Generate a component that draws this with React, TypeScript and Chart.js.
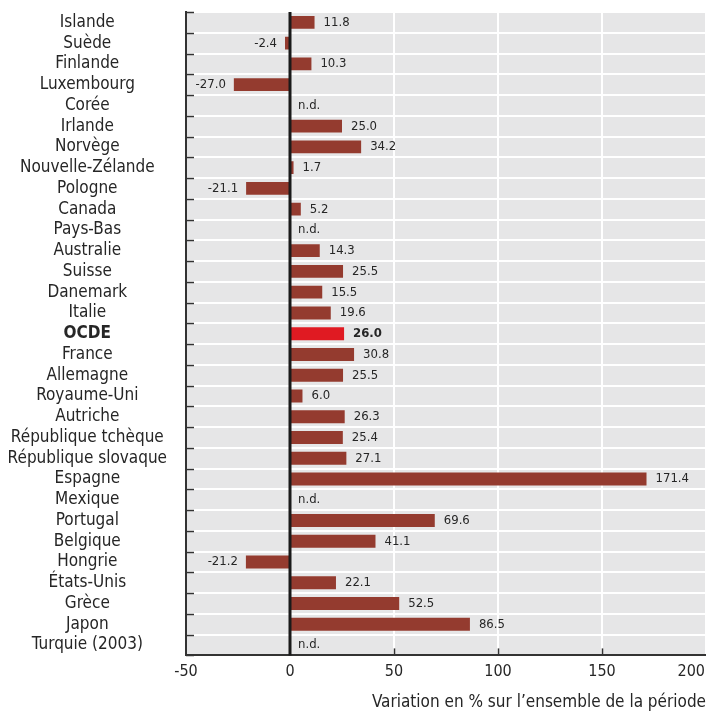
import React, { useEffect, useRef } from 'react';
import { Chart, registerables } from 'chart.js';

Chart.register(...registerables);

const countries: string[] = [
  'Islande', 'Suède', 'Finlande', 'Luxembourg', 'Corée', 'Irlande', 'Norvège',
  'Nouvelle-Zélande', 'Pologne', 'Canada', 'Pays-Bas', 'Australie', 'Suisse',
  'Danemark', 'Italie', 'OCDE', 'France', 'Allemagne', 'Royaume-Uni', 'Autriche',
  'République tchèque', 'République slovaque', 'Espagne', 'Mexique', 'Portugal',
  'Belgique', 'Hongrie', 'États-Unis', 'Grèce', 'Japon', 'Turquie (2003)',
];

const values: (number | null)[] = [
  11.8, -2.4, 10.3, -27.0, null, 25.0, 34.2,
  1.7, -21.1, 5.2, null, 14.3, 25.5,
  15.5, 19.6, 26.0, 30.8, 25.5, 6.0, 26.3,
  25.4, 27.1, 171.4, null, 69.6,
  41.1, -21.2, 22.1, 52.5, 86.5, null,
];

const highlight = 'OCDE';
const xMin = -50;
const xMax = 200;
const xStep = 50;
const axisTitle = 'Variation en % sur l’ensemble de la période';
const missingLabel = 'n.d.';

const FONT = '"Liberation Sans Narrow", "DejaVu Sans Condensed", "DejaVu Sans", sans-serif';
const BAR = '#943b2f';
const HL = '#e01a22';
const BG = '#e6e6e7';
const TEXT = '#262626';
const AXIS = '#333333';
const TICK_SIZE = 16;
const TICK_PAD = 7;

const overlay = {
  id: 'overlay',
  beforeDraw(chart: any) {
    const { ctx, chartArea } = chart;
    ctx.save();
    ctx.fillStyle = BG;
    ctx.fillRect(chartArea.left, chartArea.top, chartArea.right - chartArea.left, chartArea.bottom - chartArea.top);
    ctx.restore();
  },
  afterDatasetsDraw(chart: any) {
    const { ctx, chartArea } = chart;
    const xs = chart.scales.x;
    const ys = chart.scales.y;
    ctx.save();
    ctx.strokeStyle = AXIS;
    ctx.lineWidth = 1.5;
    for (let i = 0; i <= countries.length; i++) {
      const y = Math.round(ys.getPixelForValue(i - 0.5)) + 0.5;
      ctx.beginPath();
      ctx.moveTo(chartArea.left, y);
      ctx.lineTo(chartArea.left + 8, y);
      ctx.stroke();
    }
    for (let v = xMin + xStep; v < xMax; v += xStep) {
      if (v === 0) continue;
      const x = Math.round(xs.getPixelForValue(v)) + 0.5;
      ctx.beginPath();
      ctx.moveTo(x, chartArea.bottom);
      ctx.lineTo(x, chartArea.bottom - 7);
      ctx.stroke();
    }
    const x0 = xs.getPixelForValue(0);
    ctx.strokeStyle = '#1a1a1a';
    ctx.lineWidth = 3;
    ctx.beginPath();
    ctx.moveTo(x0, chartArea.top);
    ctx.lineTo(x0, chartArea.bottom);
    ctx.stroke();
    ctx.fillStyle = TEXT;
    ctx.textBaseline = 'middle';
    values.forEach((v, i) => {
      const y = ys.getPixelForValue(i);
      const bold = countries[i] === highlight;
      ctx.font = `${bold ? 'bold ' : ''}13px ${FONT}`;
      if (v === null) {
        ctx.textAlign = 'left';
        ctx.fillText(missingLabel, x0 + 8, y);
      } else if (v >= 0) {
        ctx.textAlign = 'left';
        ctx.fillText(v.toFixed(1), xs.getPixelForValue(v) + 9, y);
      } else {
        ctx.textAlign = 'right';
        ctx.fillText(v.toFixed(1), xs.getPixelForValue(v) - 8, y);
      }
    });
    ctx.restore();
  },
  afterDraw(chart: any) {
    const { ctx } = chart;
    const xs = chart.scales.x;
    ctx.save();
    ctx.font = `${TICK_SIZE}px ${FONT}`;
    ctx.fillStyle = TEXT;
    ctx.textAlign = 'right';
    ctx.textBaseline = 'middle';
    ctx.fillText(String(xMax), chart.width - 1, xs.top + TICK_PAD + (TICK_SIZE * 1.2) / 2);
    ctx.restore();
  },
};

export default function App() {
  const ref = useRef<HTMLCanvasElement | null>(null);
  useEffect(() => {
    if (!ref.current) return;
    const chart = new Chart(ref.current, {
      type: 'bar',
      data: {
        labels: countries,
        datasets: [
          {
            data: values as any,
            backgroundColor: countries.map((c) => (c === highlight ? HL : BAR)),
            barPercentage: 0.62,
            categoryPercentage: 1,
            borderWidth: 0,
          },
        ],
      },
      options: {
        indexAxis: 'y',
        responsive: false,
        animation: false,
        layout: { padding: { top: 12, left: 0, right: 0, bottom: 0 } },
        plugins: { legend: { display: false }, tooltip: { enabled: false } },
        scales: {
          x: {
            type: 'linear',
            min: xMin,
            max: xMax,
            ticks: {
              stepSize: xStep,
              padding: TICK_PAD,
              maxRotation: 0,
              font: { family: FONT, size: TICK_SIZE },
              color: (ctx: any) => (ctx.tick && ctx.tick.value === xMax ? 'rgba(0,0,0,0)' : TEXT),
            },
            grid: { color: '#ffffff', lineWidth: 2, drawTicks: false },
            border: { color: AXIS, width: 2 },
            title: {
              display: true,
              text: axisTitle,
              align: 'end',
              color: TEXT,
              font: { family: FONT, size: 17 },
              padding: { top: 4, bottom: 2 },
            },
            afterFit: (s: any) => {
              s.paddingLeft = 0;
              s.paddingRight = 0;
            },
          },
          y: {
            type: 'category',
            offset: true,
            ticks: {
              autoSkip: false,
              crossAlign: 'center',
              padding: 19,
              color: TEXT,
              font: (ctx: any) => ({
                family: FONT,
                size: 17,
                weight: ctx.tick && ctx.tick.label === highlight ? 'bold' : 'normal',
              }),
            },
            grid: { color: '#ffffff', lineWidth: 2, drawTicks: false, offset: true },
            border: { color: AXIS, width: 2 },
            afterFit: (s: any) => {
              s.width = 186;
              s.paddingTop = 0;
              s.paddingBottom = 0;
            },
          },
        },
      } as any,
      plugins: [overlay],
    });
    return () => chart.destroy();
  }, []);
  return (
    <div style={{ position: 'absolute', left: 0, top: 0, width: 706, height: 715 }}>
      <canvas ref={ref} width={706} height={715} style={{ width: 706, height: 715 }} />
    </div>
  );
}
